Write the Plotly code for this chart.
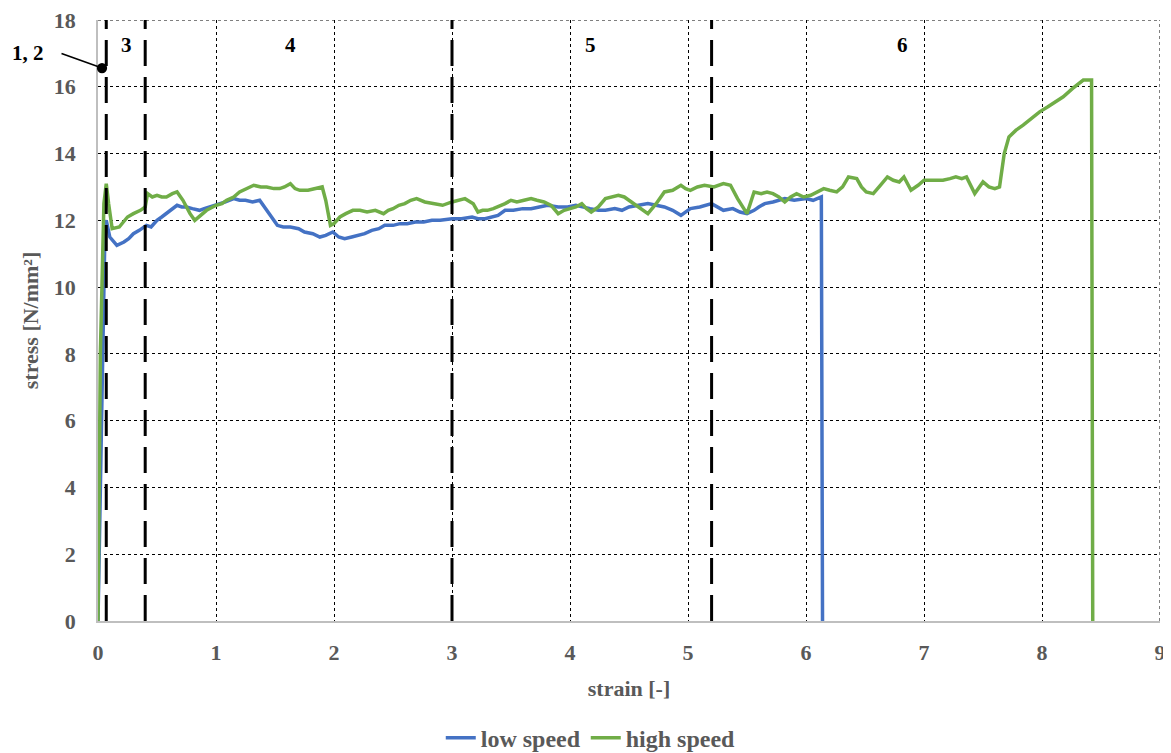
import plotly.graph_objects as go

low_x = [0, 0.03, 0.06, 0.07, 0.10, 0.16, 0.22, 0.26, 0.30, 0.35, 0.41, 0.45, 0.50, 0.54, 0.58, 0.63,
         0.67, 0.71, 0.75, 0.80, 0.86, 0.90, 0.95, 1.03, 1.08, 1.15, 1.20, 1.25, 1.31, 1.37, 1.45,
         1.52, 1.57, 1.63, 1.70, 1.75, 1.82, 1.88, 1.93, 1.99, 2.04, 2.09, 2.15, 2.20, 2.26, 2.32,
         2.38, 2.43, 2.50, 2.56, 2.62, 2.69, 2.76, 2.83, 2.90, 3.00, 3.08, 3.17, 3.22, 3.28, 3.34,
         3.39, 3.45, 3.52, 3.60, 3.67, 3.74, 3.81, 3.90, 3.98, 4.05, 4.10, 4.17, 4.24, 4.30, 4.38,
         4.44, 4.50, 4.58, 4.66, 4.73, 4.80, 4.87, 4.94, 5.02, 5.10, 5.20, 5.25, 5.30, 5.38, 5.44,
         5.50, 5.56, 5.60, 5.65, 5.72, 5.82, 5.90, 6.00, 6.06, 6.13, 6.14]
low_y = [0, 6.0, 11.9, 12.0, 11.5, 11.25, 11.35, 11.45, 11.6, 11.7, 11.85, 11.8, 12.0, 12.1, 12.2, 12.35,
         12.45, 12.4, 12.4, 12.35, 12.3, 12.35, 12.4, 12.5, 12.55, 12.65, 12.6, 12.6, 12.55, 12.6, 12.2,
         11.85, 11.8, 11.8, 11.75, 11.65, 11.6, 11.5, 11.55, 11.65, 11.5, 11.45, 11.5, 11.55, 11.6, 11.7,
         11.75, 11.85, 11.85, 11.9, 11.9, 11.95, 11.95, 12.0, 12.0, 12.05, 12.05, 12.1, 12.05, 12.05, 12.1,
         12.15, 12.3, 12.3, 12.35, 12.35, 12.4, 12.45, 12.4, 12.4, 12.45, 12.4, 12.35, 12.3, 12.3, 12.35,
         12.3, 12.4, 12.45, 12.5, 12.45, 12.4, 12.3, 12.15, 12.35, 12.4, 12.5, 12.4, 12.3, 12.35, 12.25,
         12.2, 12.3, 12.4, 12.5, 12.55, 12.65, 12.6, 12.65, 12.6, 12.7, 0]

high_x = [0, 0.02, 0.05, 0.07, 0.09, 0.12, 0.18, 0.25, 0.30, 0.36, 0.40, 0.42, 0.46, 0.50, 0.54,
          0.58, 0.63, 0.67, 0.72, 0.78, 0.82, 0.87, 0.92, 1.00, 1.05, 1.09, 1.15, 1.20, 1.26, 1.32,
          1.38, 1.43, 1.49, 1.54, 1.58, 1.63, 1.67, 1.71, 1.78, 1.85, 1.90, 1.93, 1.97, 2.00, 2.05,
          2.10, 2.16, 2.22, 2.28, 2.35, 2.42, 2.46, 2.50, 2.55, 2.60, 2.65, 2.70, 2.77, 2.84, 2.92,
          3.00, 3.05, 3.11, 3.18, 3.22, 3.26, 3.30, 3.35, 3.39, 3.45, 3.50, 3.55, 3.61, 3.67, 3.72,
          3.78, 3.84, 3.90, 3.95, 4.00, 4.05, 4.10, 4.14, 4.18, 4.24, 4.30, 4.35, 4.41, 4.46, 4.52,
          4.58, 4.66, 4.73, 4.80, 4.87, 4.94, 4.98, 5.02, 5.08, 5.14, 5.22, 5.30, 5.36, 5.42, 5.50,
          5.56, 5.62, 5.67, 5.72, 5.77, 5.82, 5.87, 5.92, 5.98, 6.04, 6.10, 6.15, 6.20, 6.26, 6.31,
          6.36, 6.43, 6.47, 6.51, 6.57, 6.63, 6.69, 6.74, 6.79, 6.83, 6.89, 6.95, 7.00, 7.08, 7.16,
          7.22, 7.27, 7.32, 7.36, 7.43, 7.50, 7.55, 7.60, 7.64, 7.68, 7.72, 7.78, 7.84, 7.91, 7.98,
          8.05, 8.12, 8.18, 8.26, 8.35, 8.42, 8.43]
high_y = [0, 8.0, 12.5, 13.1, 12.5, 11.75, 11.8, 12.1, 12.2, 12.3, 12.4, 12.8, 12.7, 12.75, 12.7,
          12.7, 12.8, 12.85, 12.6, 12.2, 12.0, 12.15, 12.3, 12.45, 12.5, 12.6, 12.7, 12.85, 12.95, 13.05,
          13.0, 13.0, 12.95, 12.95, 13.0, 13.1, 12.95, 12.9, 12.9, 12.95, 13.0, 12.6, 11.85, 11.9, 12.1,
          12.2, 12.3, 12.3, 12.25, 12.3, 12.2, 12.3, 12.35, 12.45, 12.5, 12.6, 12.65, 12.55, 12.5, 12.45,
          12.55, 12.6, 12.65, 12.5, 12.25, 12.3, 12.3, 12.35, 12.4, 12.5, 12.6, 12.55, 12.6, 12.65, 12.6,
          12.55, 12.45, 12.2, 12.3, 12.35, 12.4, 12.5, 12.35, 12.25, 12.4, 12.65, 12.7, 12.75, 12.7, 12.55,
          12.4, 12.2, 12.5, 12.85, 12.9, 13.05, 12.95, 12.9, 13.0, 13.05, 13.0, 13.1, 13.05, 12.65, 12.2,
          12.85, 12.8, 12.85, 12.8, 12.7, 12.55, 12.7, 12.8, 12.7, 12.75, 12.85, 12.95, 12.9, 12.85, 13.0,
          13.3, 13.25, 13.0, 12.85, 12.8, 13.05, 13.3, 13.2, 13.15, 13.3, 12.9, 13.05, 13.2, 13.2, 13.2,
          13.25, 13.3, 13.25, 13.3, 12.8, 13.15, 13.0, 12.95, 13.0, 14.0, 14.5, 14.7, 14.85, 15.05, 15.25,
          15.4, 15.55, 15.7, 15.95, 16.2, 16.2, 0]

phase_bounds = [0.07, 0.40, 3.0, 5.2]
phase_labels = ["3", "4", "5", "6"]
phase_label_x = [0.24, 1.63, 4.17, 6.82]

x_ticks = list(range(0, 10))
y_ticks = list(range(0, 20, 2))

FONT = "Liberation Serif"
GREY = "#595959"

fig = go.Figure()
fig.add_trace(go.Scatter(x=low_x, y=low_y, mode="lines", name="low speed",
                         line=dict(color="#4472C4", width=3.5), cliponaxis=False))
fig.add_trace(go.Scatter(x=high_x, y=high_y, mode="lines", name="high speed",
                         line=dict(color="#70AD47", width=3.5), cliponaxis=False))

# dotted frame at top and right
fig.add_shape(type="line", x0=0, x1=9, y0=18, y1=18, xref="x", yref="y",
              line=dict(color="black", width=1, dash="dot"))
fig.add_shape(type="line", x0=9, x1=9, y0=0, y1=18, xref="x", yref="y",
              line=dict(color="black", width=1, dash="dot"))

for xb in phase_bounds:
    fig.add_shape(type="line", x0=xb, x1=xb, y0=0, y1=18, xref="x", yref="y",
                  line=dict(color="black", width=3, dash="26px,11px"), layer="above")

for lx, lt in zip(phase_label_x, phase_labels):
    fig.add_annotation(x=lx, y=17.25, text=lt, showarrow=False,
                       font=dict(family=FONT, size=21, color="black", weight="bold"))

fig.add_annotation(x=0.034, y=16.56, ax=-42, ay=-15, text="", showarrow=True,
                   arrowhead=6, arrowsize=1.6, arrowwidth=1.6, arrowcolor="black")
fig.add_annotation(x=-0.066, y=0.945, xref="paper", yref="paper", text="1, 2", showarrow=False,
                   xanchor="center", yanchor="middle",
                   font=dict(family=FONT, size=21, color="black", weight="bold"))

fig.update_xaxes(range=[0, 9], tickvals=x_ticks, showgrid=True, gridcolor="black",
                 griddash="dot", gridwidth=1, showline=True, linecolor="#BFBFBF", linewidth=1.5,
                 zeroline=False, ticks="outside", ticklen=11, tickcolor="rgba(0,0,0,0)",
                 automargin=False, ticklabeloverflow="allow",
                 tickfont=dict(family=FONT, size=22, color=GREY, weight="bold"),
                 title=dict(text="strain [-]", font=dict(family=FONT, size=22, color=GREY, weight="bold"),
                            standoff=16))
fig.update_yaxes(range=[0, 18], tickvals=y_ticks, showgrid=True, gridcolor="black",
                 griddash="dot", gridwidth=1, showline=True, linecolor="#BFBFBF", linewidth=1.5,
                 zeroline=False, ticks="", automargin=False, ticklabelstandoff=16,
                 ticklabeloverflow="allow",
                 tickfont=dict(family=FONT, size=22, color=GREY, weight="bold"),
                 title=dict(text="stress [N/mm²]", font=dict(family=FONT, size=22, color=GREY, weight="bold"),
                            standoff=9))

fig.update_layout(
    width=1163, height=745,
    margin=dict(l=90, r=11, t=12, b=132, autoexpand=False),
    paper_bgcolor="white", plot_bgcolor="white",
    font=dict(family=FONT, color=GREY),
    legend=dict(orientation="h", x=0.464, xanchor="center", y=0.02, yref="container",
                yanchor="middle",
                font=dict(family=FONT, size=24, color=GREY, weight="bold")),
    showlegend=True,
)

fig.write_html("out.html")
